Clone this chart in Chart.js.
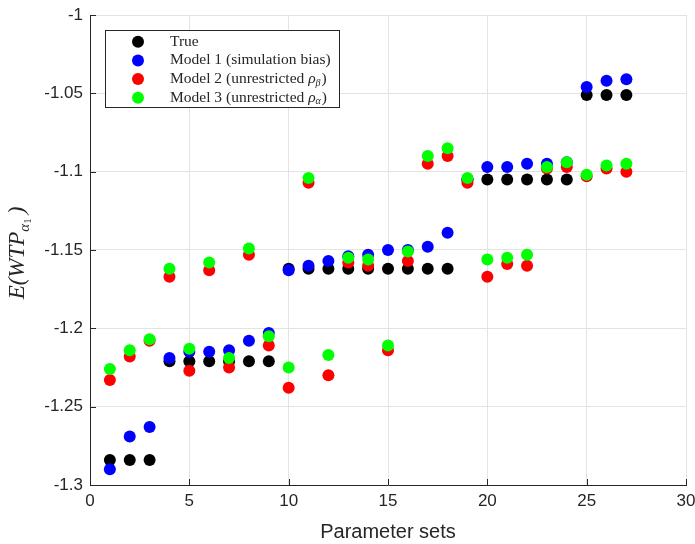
<!DOCTYPE html>
<html>
<head>
<meta charset="utf-8">
<script src="https://cdn.jsdelivr.net/npm/chart.js@4"></script>
<style>
  html, body { margin: 0; padding: 0; background: #fff; }
  canvas { display: block; }
</style>
</head>
<body>
<canvas id="wtpChart" width="695" height="544"></canvas>
<script>
const paramSets = [1, 2, 3, 4, 5, 6, 7, 8, 9, 10, 11, 12, 13, 14, 15, 16, 17, 18, 19, 20, 21, 22, 23, 24, 25, 26, 27];

const trueWTP = [
  -1.284, -1.284, -1.284, -1.221, -1.221, -1.221, -1.221, -1.221, -1.221,
  -1.162, -1.162, -1.162, -1.162, -1.162, -1.162, -1.162, -1.162, -1.162,
  -1.105, -1.105, -1.105, -1.105, -1.105, -1.105, -1.051, -1.051, -1.051
];

const model1WTP = [
  -1.290, -1.269, -1.263, -1.219, -1.215, -1.215, -1.214, -1.208, -1.203,
  -1.163, -1.160, -1.157, -1.154, -1.153, -1.150, -1.150, -1.148, -1.139,
  -1.105, -1.097, -1.097, -1.095, -1.095, -1.094, -1.046, -1.042, -1.041
];

const model2WTP = [
  -1.233, -1.218, -1.208, -1.167, -1.227, -1.163, -1.225, -1.153, -1.211,
  -1.238, -1.107, -1.230, -1.158, -1.160, -1.214, -1.157, -1.095, -1.090,
  -1.107, -1.167, -1.159, -1.160, -1.098, -1.097, -1.103, -1.098, -1.100
];

const model3WTP = [
  -1.226, -1.214, -1.207, -1.162, -1.213, -1.158, -1.219, -1.149, -1.205,
  -1.225, -1.104, -1.217, -1.155, -1.156, -1.211, -1.151, -1.090, -1.085,
  -1.104, -1.156, -1.155, -1.153, -1.097, -1.094, -1.102, -1.096, -1.095
];

const xTicks = [0, 5, 10, 15, 20, 25, 30];
const yTicks = [-1.3, -1.25, -1.2, -1.15, -1.1, -1.05, -1];

const series = [
  { name: "True", values: trueWTP, color: "#000000" },
  { name: "Model 1 (simulation bias)", values: model1WTP, color: "#0000ff" },
  { name: "Model 2 (unrestricted ", sub: "β", values: model2WTP, color: "#ff0000" },
  { name: "Model 3 (unrestricted ", sub: "α", values: model3WTP, color: "#00ff00" }
];

const axisColor = "#262626";
const gridColor = "#e3e3e3";

const toPoints = vals => vals.map((v, i) => ({ x: paramSets[i], y: v }));

// inward ticks, y label with subscripts, legend box
const decor = {
  id: "decor",
  afterDraw(chart) {
    const ctx = chart.ctx;
    const xs = chart.scales.x;
    const ys = chart.scales.y;
    const area = chart.chartArea;

    ctx.save();
    ctx.strokeStyle = axisColor;
    ctx.lineWidth = 1;
    ctx.beginPath();
    yTicks.forEach(t => {
      const py = Math.round(ys.getPixelForValue(t)) + 0.5;
      ctx.moveTo(area.left, py);
      ctx.lineTo(area.left + 6, py);
    });
    xTicks.forEach(t => {
      const px = Math.round(xs.getPixelForValue(t)) + 0.5;
      ctx.moveTo(px, area.bottom);
      ctx.lineTo(px, area.bottom - 6);
    });
    ctx.stroke();
    ctx.restore();

    // y axis label E(WTP_{alpha_1})
    ctx.save();
    ctx.translate(24, (area.top + area.bottom) / 2 + 3);
    ctx.rotate(-Math.PI / 2);
    ctx.fillStyle = axisColor;
    ctx.textBaseline = "alphabetic";
    const big = "italic 23px 'Liberation Serif'";
    const mid = "italic 15px 'Liberation Serif'";
    const small = "11px 'Liberation Serif'";
    const parts = [
      { t: "E(WTP", f: big, dy: 0 },
      { t: "α", f: mid, dy: 5 },
      { t: "1", f: small, dy: 7 },
      { t: ")", f: big, dy: 0 }
    ];
    let total = 0;
    parts.forEach(p => { ctx.font = p.f; p.w = ctx.measureText(p.t).width; total += p.w; });
    total += 4;
    let cx = -total / 2;
    parts.forEach((p, i) => {
      ctx.font = p.f;
      ctx.fillText(p.t, cx, p.dy);
      cx += p.w + (i === 2 ? 4 : 0);
    });
    ctx.restore();

    // legend
    ctx.save();
    const bx = 105, by = 30, bw = 234, bh = 77;
    ctx.fillStyle = "#ffffff";
    ctx.fillRect(bx, by, bw, bh);
    ctx.strokeStyle = axisColor;
    ctx.lineWidth = 1;
    ctx.strokeRect(bx + 0.5, by + 0.5, bw, bh);
    const lf = "15.5px 'Liberation Serif'";
    series.forEach((s, i) => {
      const ry = 41.7 + i * 18.7;
      ctx.fillStyle = s.color;
      ctx.beginPath();
      ctx.arc(138, ry, 6, 0, Math.PI * 2);
      ctx.fill();
      ctx.fillStyle = axisColor;
      ctx.font = lf;
      ctx.textBaseline = "middle";
      ctx.fillText(s.name, 170, ry);
      if (s.sub) {
        let w = ctx.measureText(s.name).width;
        ctx.font = "italic 15.5px 'Liberation Serif'";
        ctx.fillText("ρ", 170 + w, ry);
        w += ctx.measureText("ρ").width;
        ctx.font = "italic 10px 'Liberation Serif'";
        ctx.fillText(s.sub, 170 + w, ry + 4);
        w += ctx.measureText(s.sub).width + 1;
        ctx.font = lf;
        ctx.fillText(")", 170 + w, ry);
      }
    });
    ctx.restore();
  }
};

new Chart(document.getElementById("wtpChart"), {
  type: "scatter",
  data: {
    datasets: series.map((s, i) => ({
      label: s.name,
      data: toPoints(s.values),
      backgroundColor: s.color,
      borderWidth: 0,
      pointRadius: 6,
      pointHoverRadius: 6,
      order: series.length - i
    }))
  },
  options: {
    responsive: false,
    animation: false,
    devicePixelRatio: 1,
    layout: { padding: 0 },
    plugins: {
      legend: { display: false },
      tooltip: { enabled: false }
    },
    scales: {
      x: {
        type: "linear",
        min: 0,
        max: 30,
        afterBuildTicks: scale => { scale.ticks = xTicks.map(v => ({ value: v })); },
        afterFit: scale => {
          scale.height = 59;
          scale.paddingLeft = 0;
          scale.paddingRight = 9;
        },
        ticks: {
          color: axisColor,
          font: { family: "'Liberation Sans'", size: 17 },
          padding: 6,
          maxRotation: 0
        },
        grid: { color: gridColor, drawTicks: false },
        border: { color: axisColor, width: 1 },
        title: {
          display: true,
          text: "Parameter sets",
          color: axisColor,
          font: { family: "'Liberation Sans'", size: 20 },
          padding: { top: 2, bottom: 0 }
        }
      },
      y: {
        type: "linear",
        min: -1.3,
        max: -1,
        afterBuildTicks: scale => { scale.ticks = yTicks.map(v => ({ value: v })); },
        afterFit: scale => {
          scale.width = 90;
          scale.paddingTop = 15;
          scale.paddingBottom = 0;
        },
        ticks: {
          color: axisColor,
          font: { family: "'Liberation Sans'", size: 17 },
          padding: 7,
          callback: v => String(parseFloat(v.toFixed(2)))
        },
        grid: { color: gridColor, drawTicks: false },
        border: { color: axisColor, width: 1 }
      }
    }
  },
  plugins: [decor]
});
</script>
</body>
</html>
